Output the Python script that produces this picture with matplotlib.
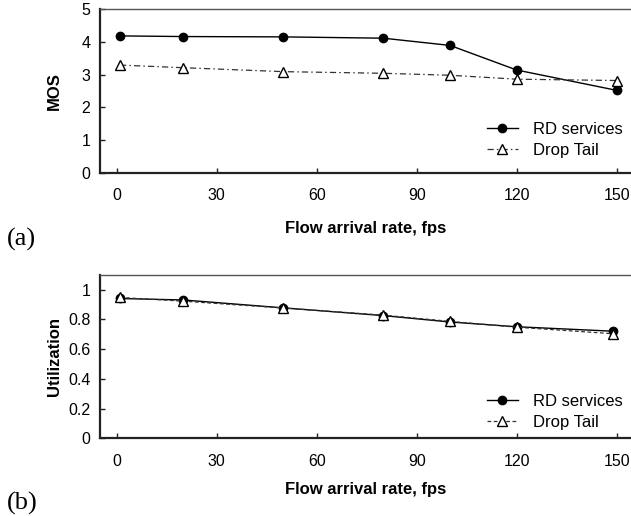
"""MOS and link utilization versus flow arrival rate for RD services and Drop Tail."""

import matplotlib

matplotlib.use("Agg")
import matplotlib.pyplot as plt
import numpy as np

plt.rcParams["font.family"] = ["Liberation Sans", "DejaVu Sans"]

# flow arrival rate (fps) at each simulated point
rate_mos = [1, 20, 50, 80, 100, 120, 150]
rate_util = [1, 20, 50, 80, 100, 120, 149]

mos_rd = [4.18, 4.16, 4.15, 4.11, 3.89, 3.14, 2.52]
mos_droptail = [3.29, 3.21, 3.09, 3.04, 2.98, 2.86, 2.82]

util_rd = [0.94, 0.93, 0.877, 0.825, 0.782, 0.75, 0.72]
util_droptail = [0.947, 0.922, 0.876, 0.828, 0.786, 0.747, 0.703]

x_ticks = [0, 30, 60, 90, 120, 150]
mos_ticks = [0, 1, 2, 3, 4, 5]
util_ticks = [0, 0.2, 0.4, 0.6, 0.8, 1.0]
util_tick_labels = ["0", "0.2", "0.4", "0.6", "0.8", "1"]

W, H = 631, 516
fig = plt.figure(figsize=(W / 100, H / 100), dpi=100)


def frame(top_px, bottom_px):
    left = 100 / W
    return fig.add_axes([left, 1 - bottom_px / H, 1 - left, (bottom_px - top_px) / H])


def style(ax, xlabel_pad):
    ax.set_xlim(-5, 154.3)
    ax.set_xticks(x_ticks)
    ax.tick_params(direction="in", length=3.5, width=1, labelsize=11.5, color="#222222")
    ax.tick_params(axis="x", pad=11)
    ax.tick_params(axis="y", pad=7)
    ax.spines["right"].set_visible(False)
    ax.spines["top"].set_color("#555555")
    ax.spines["top"].set_linewidth(1.0)
    for side in ("left", "bottom"):
        ax.spines[side].set_linewidth(1.6)
        ax.spines[side].set_color("#222222")
    ax.set_xlabel("Flow arrival rate, fps", fontsize=12, fontweight="bold", labelpad=xlabel_pad)


def legend(ax, top):
    ax.legend(loc="upper left", bbox_to_anchor=(0.728, top), frameon=False, fontsize=12,
              handlelength=1.9, handletextpad=0.9, labelspacing=0.36, borderpad=0, borderaxespad=0)


ax1 = frame(9, 173)
ax1.plot(rate_mos, mos_rd, color="black", lw=1.0, marker="o", ms=6, label="RD services")
ax1.plot(rate_mos, mos_droptail, color="#333333", lw=0.9, ls=(0, (5, 2.5, 1.2, 2.5)), marker="^",
         ms=7.5, mfc="white", mec="black", mew=1.0, label="Drop Tail")
ax1.set_ylim(0, 5)
ax1.set_yticks(mos_ticks)
style(ax1, 12.5)
ax1.set_ylabel("MOS", fontsize=12, fontweight="bold", labelpad=14)
legend(ax1, 0.31)

ax2 = frame(274.7, 438.3)
ax2.plot(rate_util, util_rd, color="black", lw=1.0, marker="o", ms=6, label="RD services")
ax2.plot(rate_util, util_droptail, color="#333333", lw=0.9, ls=(0, (3, 2)), marker="^",
         ms=7.5, mfc="white", mec="black", mew=1.0, label="Drop Tail")
ax2.set_ylim(0, 1.1)
ax2.set_yticks(util_ticks)
ax2.set_yticklabels(util_tick_labels)
style(ax2, 10)
ax2.set_ylabel("Utilization", fontsize=12, fontweight="bold", labelpad=4)
legend(ax2, 0.272)

fig.text(7 / W, 1 - 239 / H, "(a)", family="Liberation Serif", fontsize=19, va="center", ha="left")
fig.text(7 / W, 1 - 503 / H, "(b)", family="Liberation Serif", fontsize=19, va="center", ha="left")

fig.savefig("out.png", dpi=100)
